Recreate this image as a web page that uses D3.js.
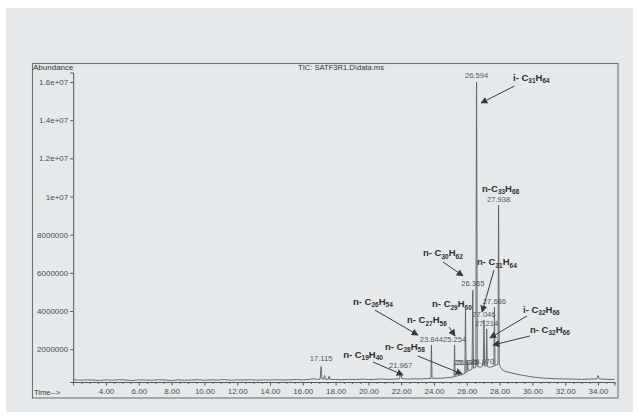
<!DOCTYPE html>
<html>
<head>
<meta charset="utf-8">
<script src="https://cdn.jsdelivr.net/npm/d3@7"></script>
<style>
  html, body { margin: 0; padding: 0; background: #ffffff; }
  svg { display: block; font-family: "Liberation Sans", Arial, Helvetica, sans-serif; }
</style>
</head>
<body>
<svg id="chart" width="639" height="419"></svg>
<script>
// ---- Total ion chromatogram: retention time (min) and abundance (millions of counts) ----
const traceTime = [
  2.0, 2.4, 2.8, 3.2, 3.6, 4.0, 4.4, 4.8, 5.2, 5.6, 6.0, 6.4, 6.8, 7.2, 7.6, 8.0, 8.4, 8.8,
  9.2, 9.6, 10.0, 10.4, 10.8, 11.2, 11.6, 12.0, 12.4, 12.8, 13.2, 13.6, 14.0, 14.4, 14.8,
  15.2, 15.6, 16.0, 16.4, 16.7, 16.9, 17.06, 17.115, 17.17, 17.28, 17.33, 17.38, 17.55,
  17.6, 17.65, 18.0, 18.4, 18.8, 19.2, 19.6, 20.0, 20.4, 20.8, 21.2, 21.6, 21.9, 21.967,
  22.03, 22.4, 22.8, 23.2, 23.6, 23.81, 23.844, 23.88, 24.2, 24.6, 25.0, 25.22, 25.254,
  25.29, 25.6, 25.88, 25.920, 25.96, 26.01, 26.048, 26.09, 26.32, 26.365, 26.41, 26.55,
  26.594, 26.64, 26.85, 26.94, 26.970, 27.0, 27.046, 27.09, 27.18, 27.214, 27.25, 27.4,
  27.65, 27.686, 27.72, 27.9, 27.938, 27.98, 28.05, 28.2, 28.4, 28.7, 29.0, 29.4, 29.8,
  30.2, 30.6, 31.0, 31.5, 32.0, 32.5, 33.0, 33.5, 33.92, 34.0, 34.08, 34.5, 35.0
];
const traceAbundanceM = [
  0.40, 0.37, 0.39, 0.38, 0.36, 0.39, 0.37, 0.40, 0.38, 0.36, 0.39, 0.38, 0.37, 0.40, 0.38, 0.36, 0.39, 0.37,
  0.38, 0.40, 0.37, 0.39, 0.38, 0.41, 0.37, 0.39, 0.38, 0.40, 0.37, 0.39, 0.38, 0.40, 0.38,
  0.39, 0.41, 0.39, 0.42, 0.45, 0.41, 0.43, 1.10, 0.44, 0.42, 0.62, 0.43, 0.42,
  0.58, 0.42, 0.41, 0.40, 0.42, 0.41, 0.43, 0.41, 0.42, 0.44, 0.42, 0.43, 0.45, 0.80,
  0.46, 0.43, 0.45, 0.44, 0.46, 0.47, 2.22, 0.48, 0.47, 0.49, 0.52, 0.55, 2.22,
  0.57, 0.64, 0.72, 4.05, 0.76, 0.82, 1.35, 0.86, 0.95, 5.10, 1.00, 1.05,
  16.0, 1.10, 1.05, 1.10, 1.30, 1.15, 3.53, 1.12, 1.10, 3.06, 1.10, 1.05,
  1.10, 4.21, 1.15, 1.20, 9.56, 1.25, 1.05, 0.90, 0.82, 0.76, 0.70, 0.63, 0.57,
  0.52, 0.49, 0.47, 0.45, 0.44, 0.43, 0.42, 0.43, 0.44, 0.62, 0.44, 0.42, 0.41
];

// ---- Retention-time labels: peak time and the abundance (millions) where its label sits ----
const peakTimes = [17.115, 21.967, 23.844, 25.254, 25.920, 26.048, 26.365, 26.594, 26.970, 27.046, 27.214, 27.686, 27.938];
const peakLabelLevelM = [1.40, 0.99, 2.38, 2.38, 1.18, 1.18, 5.29, 16.2, 1.23, 3.69, 3.22, 4.37, 9.72];

// ---- Axis ticks ----
const xTicks = [4, 6, 8, 10, 12, 14, 16, 18, 20, 22, 24, 26, 28, 30, 32, 34];
const yTicks = [2e6, 4e6, 6e6, 8e6, 1e7, 1.2e7, 1.4e7, 1.6e7];
const yTickLabels = ["2000000", "4000000", "6000000", "8000000", "1e+07", "1.2e+07", "1.4e+07", "1.6e+07"];

// ---- Compound assignments ----
const compoundNames = ["i- C31H64", "n-C33H68", "n- C30H62", "n- C31H64", "n- C29H60", "n- C26H54",
                       "n- C27H56", "n- C28H58", "n- C19H40", "i- C32H66", "n- C32H66"];

// Annotation layout in data units (time, abundance in millions): text anchor, arrow start, arrow end
const annotationLayout = [
  { text: [28.82, 16.08], from: [28.90, 15.79], to: [26.87, 14.90] },
  { text: [26.93, 10.24] },
  { text: [23.33, 6.88], from: [24.55, 6.57], to: [25.77, 5.84] },
  { text: [26.62, 6.41], from: [27.66, 6.15], to: [26.93, 3.95] },
  { text: [23.88, 4.21] },
  { text: [19.06, 4.32], from: [20.40, 4.05], to: [23.02, 2.74] },
  { text: [22.35, 3.37], from: [24.92, 3.16], to: [25.28, 2.69] },
  { text: [21.01, 1.96], from: [23.02, 1.64], to: [25.71, 0.70] },
  { text: [18.46, 1.54], from: [20.28, 1.33], to: [22.11, 0.65] },
  { text: [29.43, 3.90], from: [29.67, 3.74], to: [27.41, 2.59] },
  { text: [29.85, 2.85], from: [29.85, 2.69], to: [27.60, 2.22] }
];

const M = 1e6;
const yFloor = 280000;

const svg = d3.select("#chart");

// background panel and outer frame
svg.append("rect").attr("x", 0).attr("y", 0).attr("width", 639).attr("height", 419).attr("fill", "#ffffff");
svg.append("rect").attr("x", 6).attr("y", 8).attr("width", 627).attr("height", 404).attr("fill", "#e6e9eb");
svg.append("rect")
  .attr("x", 32.5).attr("y", 63.5).attr("width", 585.5).attr("height", 334.5)
  .attr("fill", "none").attr("stroke", "#6f7173").attr("stroke-width", 1.1);

// scales
const x = d3.scaleLinear().domain([2, 35]).range([73.2, 614.4]);
const y = d3.scaleLinear().domain([yFloor, 1.65e7]).range([382, 72.5]);

// y axis
const yAxis = d3.axisLeft(y).tickValues(yTicks).tickSize(3).tickPadding(2)
  .tickFormat((d, i) => yTickLabels[i]);
const gy = svg.append("g").attr("transform", `translate(${x(2)},0)`).call(yAxis);
gy.select(".domain").attr("stroke", "#555").attr("stroke-width", 1);
gy.selectAll(".tick line").attr("stroke", "#555");
gy.selectAll(".tick text").attr("fill", "#4a4a4a").style("font-size", "8px")
  .style("font-family", '"Liberation Sans", Arial, sans-serif');

// x axis with minor ticks
const minorTicks = d3.range(2.5, 35.01, 0.5).filter(t => xTicks.indexOf(t) < 0);
const gxMinor = svg.append("g").attr("transform", `translate(0,${y(yFloor)})`)
  .call(d3.axisBottom(x).tickValues(minorTicks).tickSize(2).tickFormat(""));
gxMinor.select(".domain").remove();
gxMinor.selectAll(".tick line").attr("stroke", "#666");

const xAxis = d3.axisBottom(x).tickValues(xTicks).tickSize(3.5).tickPadding(3)
  .tickFormat(d => d.toFixed(2));
const gx = svg.append("g").attr("transform", `translate(0,${y(yFloor)})`).call(xAxis);
gx.select(".domain").attr("stroke", "#555").attr("stroke-width", 1);
gx.selectAll(".tick line").attr("stroke", "#555");
gx.selectAll(".tick text").attr("fill", "#4a4a4a").style("font-size", "8px")
  .style("font-family", '"Liberation Sans", Arial, sans-serif');

// frame captions
svg.append("text").attr("x", 33).attr("y", 69.5).attr("fill", "#333")
  .style("font-size", "8px").text("Abundance");
svg.append("text").attr("x", 298).attr("y", 69.5).attr("fill", "#333")
  .style("font-size", "7.6px").text("TIC: SATF3R1.D\\data.ms");
svg.append("text").attr("x", 34).attr("y", 395).attr("fill", "#333")
  .style("font-size", "7.6px").text("Time-->");

// chromatogram trace
const tracePoints = traceTime.map((t, i) => [t, traceAbundanceM[i] * M]);
svg.append("path")
  .datum(tracePoints)
  .attr("fill", "none")
  .attr("stroke", "#5c5e60")
  .attr("stroke-width", 0.9)
  .attr("stroke-linejoin", "round")
  .attr("d", d3.line().x(d => x(d[0])).y(d => y(d[1])));

// retention-time labels
svg.append("g").selectAll("text")
  .data(peakTimes)
  .join("text")
  .attr("x", d => x(d))
  .attr("y", (d, i) => y(peakLabelLevelM[i] * M))
  .attr("text-anchor", "middle")
  .attr("fill", "#555")
  .style("font-size", "7.6px")
  .text(d => d.toFixed(3));

// arrow marker
svg.append("defs").append("marker")
  .attr("id", "arrowhead")
  .attr("viewBox", "0 0 10 10")
  .attr("refX", 9).attr("refY", 5)
  .attr("markerWidth", 7).attr("markerHeight", 7)
  .attr("markerUnits", "userSpaceOnUse")
  .attr("orient", "auto")
  .append("path").attr("d", "M0,0 L10,5 L0,10 z").attr("fill", "#3a3a3a");

// compound labels with subscripted atom counts
const annG = svg.append("g");
compoundNames.forEach((name, i) => {
  const lay = annotationLayout[i];
  const txt = annG.append("text")
    .attr("x", x(lay.text[0]))
    .attr("y", y(lay.text[1] * M))
    .attr("fill", "#2f2f2f")
    .style("font-size", "9.5px")
    .style("font-weight", "bold");
  const parts = name.match(/(\d+|[^\d]+)/g);
  let sub = false;
  parts.forEach(p => {
    const isNum = /^\d+$/.test(p);
    const ts = txt.append("tspan").text(p);
    if (isNum) {
      ts.style("font-size", "6.5px").attr("dy", sub ? 0 : 2.5);
      sub = true;
    } else {
      if (sub) ts.attr("dy", -2.5);
      sub = false;
    }
  });
  if (lay.from) {
    annG.append("line")
      .attr("x1", x(lay.from[0])).attr("y1", y(lay.from[1] * M))
      .attr("x2", x(lay.to[0])).attr("y2", y(lay.to[1] * M))
      .attr("stroke", "#3a3a3a").attr("stroke-width", 1)
      .attr("marker-end", "url(#arrowhead)");
  }
});
</script>
</body>
</html>
